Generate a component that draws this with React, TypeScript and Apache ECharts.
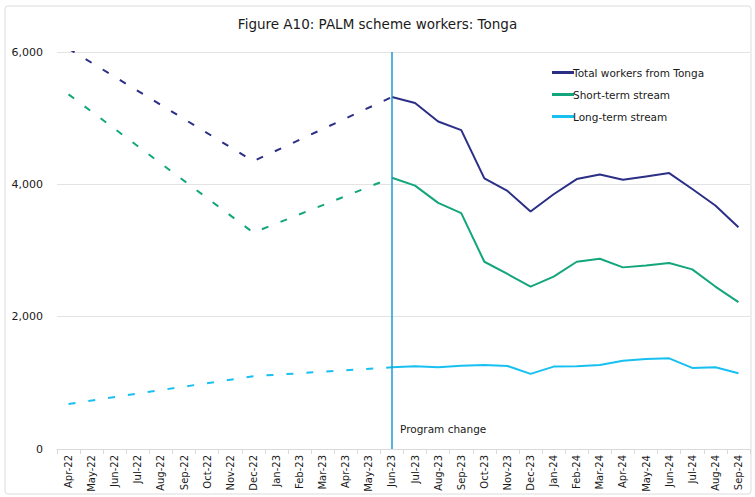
import React, { useEffect, useRef } from "react";
import * as echarts from "echarts";

const categories = [
  "Apr-22", "May-22", "Jun-22", "Jul-22", "Aug-22", "Sep-22", "Oct-22", "Nov-22", "Dec-22",
  "Jan-23", "Feb-23", "Mar-23", "Apr-23", "May-23", "Jun-23", "Jul-23", "Aug-23", "Sep-23",
  "Oct-23", "Nov-23", "Dec-23", "Jan-24", "Feb-24", "Mar-24", "Apr-24", "May-24", "Jun-24",
  "Jul-24", "Aug-24", "Sep-24",
];

const N = null;
// Pre-change (dashed) estimates: known at Apr-22, Dec-22 and Jun-23
const totalPre = [6050, N, N, N, N, N, N, N, 4350, N, N, N, N, N, 5320, N, N, N, N, N, N, N, N, N, N, N, N, N, N, N];
const shortPre = [5360, N, N, N, N, N, N, N, 3270, N, N, N, N, N, 4100, N, N, N, N, N, N, N, N, N, N, N, N, N, N, N];
const longPre = [680, N, N, N, N, N, N, N, 1100, N, N, N, N, N, 1235, N, N, N, N, N, N, N, N, N, N, N, N, N, N, N];

// Post-change (solid) monthly values from Jun-23
const totalPost = [N, N, N, N, N, N, N, N, N, N, N, N, N, N,
  5320, 5230, 4950, 4820, 4090, 3900, 3590, 3850, 4080, 4150, 4070, 4120, 4170, 3930, 3680, 3350];
const shortPost = [N, N, N, N, N, N, N, N, N, N, N, N, N, N,
  4100, 3980, 3720, 3565, 2830, 2645, 2455, 2605, 2830, 2875, 2745, 2775, 2810, 2715, 2455, 2220];
const longPost = [N, N, N, N, N, N, N, N, N, N, N, N, N, N,
  1235, 1250, 1235, 1260, 1270, 1255, 1135, 1245, 1250, 1270, 1335, 1360, 1370, 1225, 1235, 1145];

const yTicks = [0, 2000, 4000, 6000];

const TITLE = "Figure A10: PALM scheme workers: Tonga";
const NAMES = ["Total workers from Tonga", "Short-term stream", "Long-term stream"];
const COLORS = ["#2b2f86", "#13a57b", "#18c0f2"];
const FONT = "DejaVu Sans";

export default function App() {
  const ref = useRef<HTMLDivElement>(null);
  useEffect(() => {
    if (!ref.current) return;
    const chart = echarts.init(ref.current, null, { renderer: "svg" });
    const dashed = (name: string, data: any[], color: string) => ({
      name,
      type: "line",
      data,
      connectNulls: true,
      symbol: "none",
      lineStyle: { color, width: 2, type: [7, 13] },
      itemStyle: { color },
      z: 2,
    });
    const solid = (name: string, data: any[], color: string, extra: any = {}) => ({
      name,
      type: "line",
      data,
      symbol: "none",
      lineStyle: { color, width: 2 },
      itemStyle: { color },
      z: 3,
      ...extra,
    });
    chart.setOption({
      animation: false,
      backgroundColor: "#ffffff",
      textStyle: { fontFamily: FONT },
      title: {
        text: TITLE,
        left: "center",
        top: 12,
        textStyle: { fontFamily: FONT, fontSize: 13.5, fontWeight: "normal", color: "#1a1a1a" },
      },
      legend: {
        data: NAMES,
        orient: "vertical",
        left: 547,
        top: 62,
        itemWidth: 22,
        itemHeight: 3,
        itemGap: 11,
        icon: "rect",
        textStyle: { fontFamily: FONT, fontSize: 10.5, color: "#1a1a1a", padding: [0, 0, 0, -6] },
      },
      grid: { left: 57, right: 5, top: 52, bottom: 48, containLabel: false },
      xAxis: {
        type: "category",
        data: categories,
        boundaryGap: true,
        axisLine: { lineStyle: { color: "#d9d9d9" } },
        axisTick: { show: true, length: 5, lineStyle: { color: "#d9d9d9" } },
        axisLabel: {
          rotate: 90,
          interval: 0,
          fontFamily: FONT,
          fontSize: 10,
          color: "#1a1a1a",
          margin: 6,
        },
      },
      yAxis: {
        type: "value",
        min: yTicks[0],
        max: yTicks[yTicks.length - 1],
        interval: 2000,
        axisLine: { show: false },
        axisTick: { show: false },
        splitLine: { lineStyle: { color: "#e3e3e3" } },
        axisLabel: {
          fontFamily: FONT,
          fontSize: 11,
          color: "#1a1a1a",
          margin: 14,
          formatter: (v: number) => v.toLocaleString("en-US"),
        },
      },
      graphic: [
        {
          type: "rect",
          shape: { x: 5, y: 6, width: 746, height: 488, r: 3 },
          style: { fill: "none", stroke: "#dcdcdc", lineWidth: 1 },
          silent: true,
        },
        {
          type: "text",
          left: 400,
          top: 423,
          style: { text: "Program change", fontFamily: FONT, fontSize: 10.5, fill: "#1a1a1a" },
        },
      ],
      series: [
        dashed("Total (pre)", totalPre, COLORS[0]),
        dashed("Short (pre)", shortPre, COLORS[1]),
        dashed("Long (pre)", longPre, COLORS[2]),
        solid(NAMES[0], totalPost, COLORS[0], {
          markLine: {
            silent: true,
            symbol: "none",
            label: { show: false },
            lineStyle: { color: "#1c9ad6", width: 1.5, type: "solid" },
            data: [{ xAxis: "Jun-23" }],
          },
        }),
        solid(NAMES[1], shortPost, COLORS[1]),
        solid(NAMES[2], longPost, COLORS[2]),
      ],
    });
    return () => chart.dispose();
  }, []);
  return (
    <div
      ref={ref}
      style={{ position: "absolute", left: 0, top: 0, width: 755, height: 497 }}
    />
  );
}
